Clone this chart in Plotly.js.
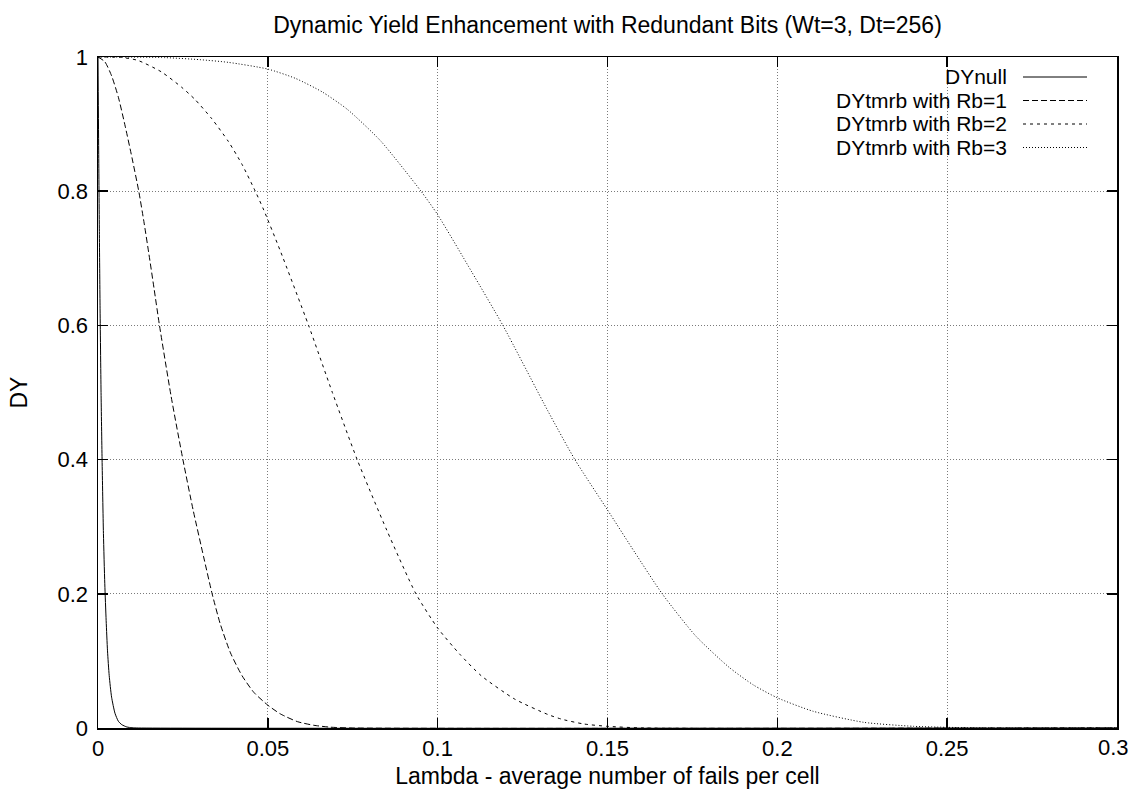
<!DOCTYPE html>
<html>
<head>
<meta charset="utf-8">
<script src="https://cdn.plot.ly/plotly-3.0.1.min.js"></script>
<style>
html,body{margin:0;padding:0;background:#fff;}
#chart{width:1130px;height:797px;}
</style>
</head>
<body>
<div id="chart"></div>
<script>
// ---- data ----
const seriesNames = ["DYnull", "DYtmrb with Rb=1", "DYtmrb with Rb=2", "DYtmrb with Rb=3"];

const lamNull = [0, 0.0002, 0.0004, 0.0006, 0.0009, 0.0012, 0.0016, 0.002, 0.0024, 0.0028, 0.0033, 0.004, 0.005, 0.006, 0.007, 0.0085, 0.01, 0.012, 0.3];
const dyNull  = [1, 0.86, 0.74, 0.63, 0.50, 0.40, 0.29, 0.215, 0.16, 0.115, 0.078, 0.046, 0.022, 0.010, 0.005, 0.0015, 0.0004, 0, 0];

const lamRb1 = [0, 0.002, 0.004, 0.006, 0.008, 0.010, 0.012, 0.0135, 0.015, 0.0165, 0.0181, 0.0215, 0.025, 0.028, 0.0311, 0.0336, 0.036, 0.039, 0.0424, 0.0459, 0.05, 0.0537, 0.0587, 0.0636, 0.0685, 0.075, 0.3];
const dyRb1  = [1, 0.993, 0.972, 0.94, 0.897, 0.85, 0.80, 0.755, 0.706, 0.655, 0.60, 0.495, 0.40, 0.325, 0.255, 0.20, 0.155, 0.112, 0.078, 0.053, 0.034, 0.021, 0.0095, 0.004, 0.0012, 0, 0];

const lamRb2 = [0, 0.0067, 0.0117, 0.0186, 0.0246, 0.0285, 0.0335, 0.0384, 0.0424, 0.0463, 0.0488, 0.0536, 0.062, 0.069, 0.0763, 0.085, 0.0936, 0.1, 0.1065, 0.1128, 0.1227, 0.1325, 0.1366, 0.143, 0.15, 0.161, 0.3];
const dyRb2  = [1, 0.9995, 0.995, 0.978, 0.955, 0.937, 0.908, 0.874, 0.84, 0.80, 0.772, 0.712, 0.60, 0.50, 0.40, 0.295, 0.20, 0.149, 0.11, 0.078, 0.043, 0.02, 0.013, 0.006, 0.0025, 0, 0];

const lamRb3 = [0, 0.02, 0.03, 0.0384, 0.05, 0.0582, 0.066, 0.0734, 0.0832, 0.0951, 0.1, 0.11, 0.1192, 0.1325, 0.1404, 0.15, 0.158, 0.1661, 0.176, 0.1859, 0.193, 0.2, 0.2105, 0.2254, 0.2401, 0.25, 0.262, 0.3];
const dyRb3  = [1, 0.999, 0.996, 0.992, 0.982, 0.968, 0.948, 0.922, 0.875, 0.80, 0.765, 0.68, 0.60, 0.472, 0.40, 0.325, 0.262, 0.20, 0.137, 0.09, 0.064, 0.045, 0.025, 0.0085, 0.0025, 0.001, 0, 0];

const xTickVals = [0, 0.05, 0.1, 0.15, 0.2, 0.25, 0.3];
const xTickText = ["0", "0.05", "0.1", "0.15", "0.2", "0.25", "0.3"];
const yTickVals = [0, 0.2, 0.4, 0.6, 0.8, 1];
const yTickText = ["0", "0.2", "0.4", "0.6", "0.8", "1"];

// ---- styling ----
const FONT = "Liberation Sans, Arial, Helvetica, sans-serif";
const FS = 23, FS_TICK = 22, FS_KEY = 21;
const dashes = ["solid", "6px,3px", "3px,4px", "1px,2px"];
const xs = [lamNull, lamRb1, lamRb2, lamRb3];
const ys = [dyNull, dyRb1, dyRb2, dyRb3];

const traces = xs.map((x, i) => ({
  type: "scatter", mode: "lines", x: x, y: ys[i], name: seriesNames[i],
  line: {color: "#000", width: 1, dash: dashes[i], shape: "spline", smoothing: 0.6},
  showlegend: false, hoverinfo: "skip"
}));

// gnuplot-style key: right-justified text, sample line to the right
const keyTop = 77, keyStep = 23.5, H = 797, W = 1130;
const plotL = 98, plotR = 1117, plotT = 57, plotB = 728;
const px2x = p => (p - plotL) / (plotR - plotL);
const px2y = p => (plotB - p) / (plotB - plotT);
const annotations = [], shapes = [];
seriesNames.forEach((n, i) => {
  const yy = px2y(keyTop + i * keyStep);
  annotations.push({text: n, xref: "paper", yref: "paper", x: px2x(1009), y: yy,
    xanchor: "right", yanchor: "middle", showarrow: false,
    font: {family: FONT, size: FS_KEY, color: "#000"}});
  shapes.push({type: "line", xref: "paper", yref: "paper",
    x0: px2x(1023), x1: px2x(1087), y0: yy, y1: yy,
    line: {color: "#000", width: 1, dash: dashes[i]}});
});

// the last x tick label sits at the very right edge of the page: draw it
// as an annotation nudged inward so it is not clipped
const lastIdx = xTickVals.length - 1;
const xTickTextShown = xTickText.map((t, i) => i === lastIdx ? "" : t);
annotations.push({text: xTickText[lastIdx], xref: "x", yref: "paper",
  x: xTickVals[lastIdx], y: 0, xanchor: "right", yanchor: "top",
  xshift: 13, yshift: -6, showarrow: false, borderpad: 0,
  font: {family: FONT, size: FS_TICK, color: "#000"}});

const axisCommon = {
  showline: true, linecolor: "#000", linewidth: 1.5, mirror: "allticks",
  ticks: "inside", ticklen: 10, tickwidth: 1.5, tickcolor: "#000",
  showgrid: true, gridcolor: "#7a7a7a", griddash: "1px,2px", gridwidth: 1,
  zeroline: false, tickfont: {family: FONT, size: FS_TICK, color: "#000"},
  fixedrange: true
};

const layout = {
  width: W, height: H,
  margin: {l: plotL, r: W - plotR, t: plotT, b: H - plotB},
  paper_bgcolor: "#fff", plot_bgcolor: "#fff",
  font: {family: FONT, color: "#000"},
  title: {text: "Dynamic Yield Enhancement with Redundant Bits (Wt=3, Dt=256)",
    font: {family: FONT, size: FS, color: "#000"},
    xref: "paper", x: 0.5, xanchor: "center",
    yref: "container", y: 1 - 25 / H, yanchor: "middle"},
  xaxis: Object.assign({}, axisCommon, {
    range: [0, 0.3], tickvals: xTickVals, ticktext: xTickTextShown,
    ticklabelstandoff: 0,
    title: {text: "Lambda - average number of fails per cell", font: {family: FONT, size: FS, color: "#000"}, standoff: 8}
  }),
  yaxis: Object.assign({}, axisCommon, {
    range: [0, 1], tickvals: yTickVals, ticktext: yTickText,
    ticklabelstandoff: 4,
    title: {text: "DY", font: {family: FONT, size: FS, color: "#000"}, standoff: 23}
  }),
  showlegend: false,
  annotations: annotations,
  shapes: shapes
};

Plotly.newPlot("chart", traces, layout, {staticPlot: true, displayModeBar: false});
</script>
</body>
</html>
